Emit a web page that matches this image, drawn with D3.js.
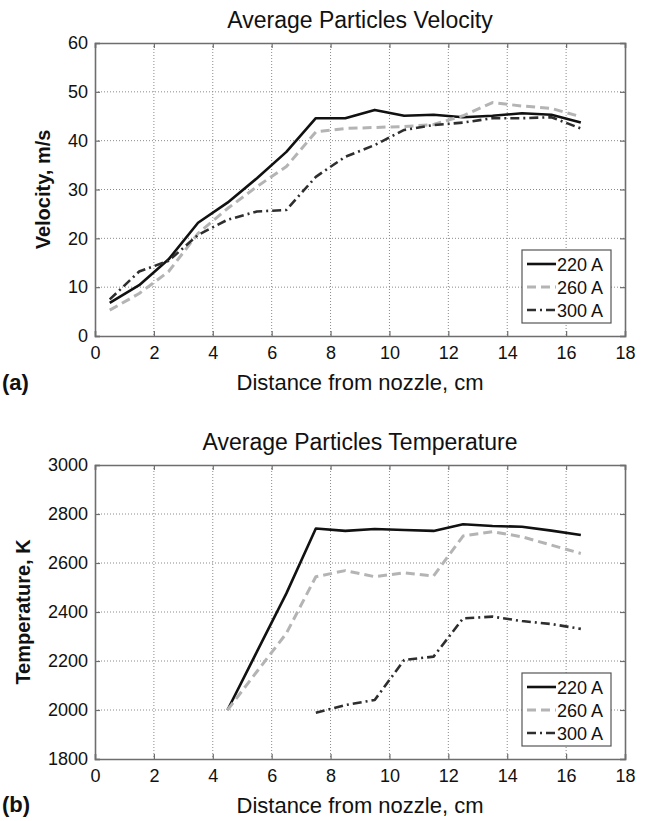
<!DOCTYPE html>
<html>
<head>
<meta charset="utf-8">
<script src="https://cdn.jsdelivr.net/npm/d3@7"></script>
<style>
  html, body { margin: 0; padding: 0; background: #fff; }
  svg { display: block; font-family: "Liberation Sans", Arial, sans-serif; }
</style>
</head>
<body>
<div id="chart"></div>
<script>
// values
var seriesNames = ["220 A", "260 A", "300 A"];

var velDistance = [0.5, 1.5, 2.5, 3.5, 4.5, 5.5, 6.5, 7.5, 8.5, 9.5, 10.5, 11.5, 12.5, 13.5, 14.5, 15.5, 16.5];
var vel220 = [6.8, 10.4, 15.7, 23.2, 27.3, 32.3, 37.7, 44.6, 44.6, 46.3, 45.1, 45.3, 44.8, 45.1, 45.6, 45.3, 43.7];
var vel260 = [5.3, 8.7, 13.2, 21.0, 26.1, 30.6, 34.7, 41.8, 42.5, 42.7, 42.9, 43.3, 45.1, 47.8, 47.1, 46.6, 44.9];
var vel300 = [7.5, 13.2, 15.4, 20.7, 23.8, 25.5, 25.8, 32.6, 36.7, 39.1, 42.2, 43.2, 43.7, 44.6, 44.6, 44.8, 42.5];

var tempDistance = [4.5, 5.5, 6.5, 7.5, 8.5, 9.5, 10.5, 11.5, 12.5, 13.5, 14.5, 15.5, 16.5];
var temp220 = [2000, 2238, 2476, 2741, 2731, 2739, 2735, 2731, 2758, 2751, 2748, 2732, 2714];
var temp260 = [2000, 2157, 2313, 2544, 2569, 2544, 2560, 2547, 2710, 2728, 2707, 2673, 2639];
var temp300Distance = [7.5, 8.5, 9.5, 10.5, 11.5, 12.5, 13.5, 14.5, 15.5, 16.5];
var temp300 = [1989, 2020, 2041, 2204, 2218, 2374, 2381, 2363, 2351, 2331];

var xTicks = [0, 2, 4, 6, 8, 10, 12, 14, 16, 18];
var velTicks = [0, 10, 20, 30, 40, 50, 60];
var tempTicks = [1800, 2000, 2200, 2400, 2600, 2800, 3000];

var width = 647,
    height = 821;

var styles = [
  { stroke: "#111111", width: 2.6, dash: null },
  { stroke: "#b4b4b4", width: 3, dash: "9,5" },
  { stroke: "#2e2e2e", width: 2.6, dash: "9,4,2,4" }
];

var svg = d3.select("#chart").append("svg")
  .attr("width", width)
  .attr("height", height)
  .attr("viewBox", `0 0 ${width} ${height}`);

function panel(opts) {
  var left = 95, right = 625;
  var top = opts.top, bottom = opts.bottom;

  var x = d3.scaleLinear().domain([0, 18]).range([left, right]);
  var y = d3.scaleLinear().domain(opts.yDomain).range([bottom, top]);

  var g = svg.append("g");

  // dotted grid
  g.append("g").selectAll("line")
    .data(xTicks.slice(1, -1))
    .enter().append("line")
      .attr("x1", d => x(d)).attr("x2", d => x(d))
      .attr("y1", top).attr("y2", bottom)
      .attr("stroke", "#8a8a8a")
      .attr("stroke-width", 1)
      .attr("stroke-dasharray", "1,2");

  g.append("g").selectAll("line")
    .data(opts.yTicks.slice(1, -1))
    .enter().append("line")
      .attr("x1", left).attr("x2", right)
      .attr("y1", d => y(d)).attr("y2", d => y(d))
      .attr("stroke", "#8a8a8a")
      .attr("stroke-width", 1)
      .attr("stroke-dasharray", "1,2");

  // axes with inward ticks, MATLAB style
  var axB = g.append("g")
    .attr("transform", `translate(0,${bottom})`)
    .call(d3.axisBottom(x).tickValues(xTicks).tickSize(-5).tickPadding(10).tickFormat(d3.format("d")));
  var axT = g.append("g")
    .attr("transform", `translate(0,${top})`)
    .call(d3.axisTop(x).tickValues(xTicks).tickSize(-5).tickFormat(""));
  var axL = g.append("g")
    .attr("transform", `translate(${left},0)`)
    .call(d3.axisLeft(y).tickValues(opts.yTicks).tickSize(-5).tickPadding(7).tickFormat(d3.format("d")));
  var axR = g.append("g")
    .attr("transform", `translate(${right},0)`)
    .call(d3.axisRight(y).tickValues(opts.yTicks).tickSize(-5).tickFormat(""));

  [axB, axT, axL, axR].forEach(function(a) {
    a.select(".domain").attr("stroke", "#6e6e6e").attr("stroke-width", 1.6);
    a.selectAll(".tick line").attr("stroke", "#6e6e6e").attr("stroke-width", 1.2);
    a.selectAll("text")
      .attr("font-size", 18)
      .attr("font-family", "Liberation Sans, Arial, sans-serif")
      .attr("fill", "#111");
  });

  // series
  var line = d3.line()
    .x(d => x(d[0]))
    .y(d => y(d[1]));

  opts.series.forEach(function(s, i) {
    var pts = d3.zip(s.x, s.y);
    g.append("path")
      .datum(pts)
      .attr("fill", "none")
      .attr("stroke", styles[i].stroke)
      .attr("stroke-width", styles[i].width)
      .attr("stroke-dasharray", styles[i].dash)
      .attr("stroke-linejoin", "round")
      .attr("d", line);
  });

  // legend
  var lw = 89, lh = 73;
  var lx = right - 103, ly = bottom - 86;
  var leg = g.append("g").attr("transform", `translate(${lx},${ly})`);
  leg.append("rect")
    .attr("width", lw).attr("height", lh)
    .attr("fill", "#fff")
    .attr("stroke", "#555")
    .attr("stroke-width", 1.2);
  seriesNames.forEach(function(name, i) {
    var ry = 14 + i * 23;
    leg.append("line")
      .attr("x1", 5).attr("x2", 34)
      .attr("y1", ry).attr("y2", ry)
      .attr("stroke", styles[i].stroke)
      .attr("stroke-width", styles[i].width)
      .attr("stroke-dasharray", styles[i].dash);
    leg.append("text")
      .attr("x", 35).attr("y", ry + 6.5)
      .attr("font-size", 18)
      .attr("fill", "#111")
      .text(name);
  });

  // title and labels
  svg.append("text")
    .attr("x", (left + right) / 2).attr("y", top - 15)
    .attr("text-anchor", "middle")
    .attr("font-size", 23)
    .attr("fill", "#111")
    .text(opts.title);

  svg.append("text")
    .attr("x", (left + right) / 2).attr("y", bottom + 54)
    .attr("text-anchor", "middle")
    .attr("font-size", 22)
    .attr("fill", "#111")
    .text("Distance from nozzle, cm");

  svg.append("text")
    .attr("transform", `translate(${opts.yLabelX},${(top + bottom) / 2}) rotate(-90)`)
    .attr("text-anchor", "middle")
    .attr("font-size", 20)
    .attr("font-weight", "bold")
    .attr("fill", "#111")
    .text(opts.yLabel);

  svg.append("text")
    .attr("x", 2).attr("y", opts.tagY)
    .attr("font-size", 22)
    .attr("font-weight", "bold")
    .attr("fill", "#111")
    .text(opts.tag);
}

panel({
  top: 43, bottom: 336,
  yDomain: [0, 60], yTicks: velTicks,
  title: "Average Particles Velocity",
  yLabel: "Velocity, m/s", yLabelX: 50,
  tag: "(a)", tagY: 390,
  series: [
    { x: velDistance, y: vel220 },
    { x: velDistance, y: vel260 },
    { x: velDistance, y: vel300 }
  ]
});

panel({
  top: 465, bottom: 759,
  yDomain: [1800, 3000], yTicks: tempTicks,
  title: "Average Particles Temperature",
  yLabel: "Temperature, K", yLabelX: 30,
  tag: "(b)", tagY: 812,
  series: [
    { x: tempDistance, y: temp220 },
    { x: tempDistance, y: temp260 },
    { x: temp300Distance, y: temp300 }
  ]
});
</script>
</body>
</html>
